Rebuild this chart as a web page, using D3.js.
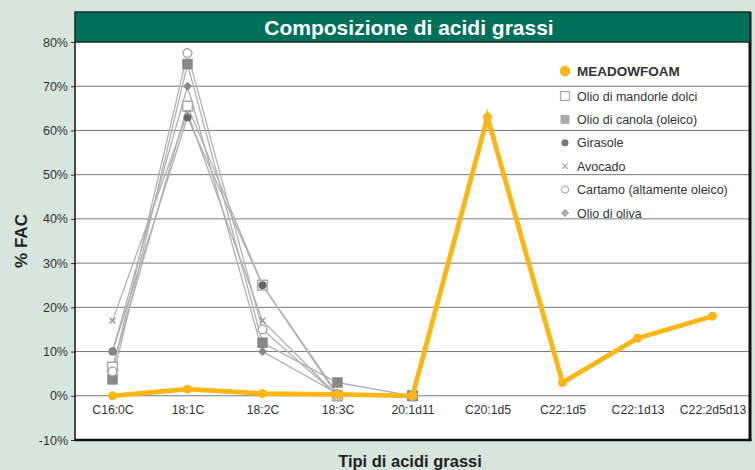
<!DOCTYPE html>
<html>
<head>
<meta charset="utf-8">
<script src="https://cdn.jsdelivr.net/npm/d3@7"></script>
<style>
  body { margin: 0; background: #d7e5df; }
  svg { display: block; font-family: "Liberation Sans", Arial, sans-serif; }
</style>
</head>
<body>
<svg width="755" height="470"></svg>
<script>
const categories = ['C16:0C', '18:1C', '18:2C', '18:3C', '20:1d11', 'C20:1d5', 'C22:1d5', 'C22:1d13', 'C22:2d5d13'];
const yTicks = [-10, 0, 10, 20, 30, 40, 50, 60, 70, 80];

// values in % FAC
const meadowfoam = [0, 1.5, 0.5, 0.3, 0, 63, 3, 13, 18];
const mandorle = [6.5, 65.5, 25, 0, 0];
const canola = [3.7, 75, 12, 3, 0];
const girasole = [10, 63, 25, 0.5, 0];
const avocado = [17, 64, 17, 0, 0];
const cartamo = [5.5, 77.5, 15, 0, 0];
const oliva = [10, 70, 10, 0.5, 0];

const greySeries = [
  { name: 'Olio di mandorle dolci', values: mandorle, symbol: d3.symbolSquare, size: 95, fill: '#fff', stroke: '#aaa' },
  { name: 'Olio di canola (oleico)', values: canola, symbol: d3.symbolSquare, size: 110, fill: '#888', stroke: 'none' },
  { name: 'Girasole', values: girasole, symbol: d3.symbolCircle, size: 50, fill: '#666', stroke: 'none' },
  { name: 'Avocado', values: avocado, symbol: d3.symbolX, size: 22, fill: 'none', stroke: '#999' },
  { name: 'Cartamo (altamente oleico)', values: cartamo, symbol: d3.symbolCircle, size: 60, fill: '#fff', stroke: '#aaa' },
  { name: 'Olio di oliva', values: oliva, symbol: d3.symbolSquare, size: 40, fill: '#888', stroke: 'none', rotate: 45 }
];

const orange = '#fbb616';
const plotLeft = 75, plotRight = 750, plotTop = 42, plotBottom = 440;

const svg = d3.select('svg');

const x = d3.scalePoint().domain(categories).range([plotLeft, plotRight]).padding(0.5);
const y = d3.scaleLinear().domain([-10, 80]).range([plotBottom, plotTop]);

// plot background
svg.append('rect')
    .attr('x', plotLeft).attr('y', plotTop)
    .attr('width', plotRight - plotLeft).attr('height', plotBottom - plotTop)
    .attr('fill', '#fff');

// gridlines
svg.append('g')
  .selectAll('line')
  .data(yTicks.filter(d => d > -10 && d < 80))
  .join('line')
    .attr('x1', plotLeft).attr('x2', plotRight)
    .attr('y1', d => y(d)).attr('y2', d => y(d))
    .attr('stroke', '#7a7a7a')
    .attr('stroke-width', 1);

// y axis
const yAxis = svg.append('g')
    .attr('transform', `translate(${plotLeft},0)`)
    .call(d3.axisLeft(y).tickValues(yTicks).tickFormat(d => d + '%').tickSize(4).tickPadding(3));
yAxis.select('.domain').remove();
yAxis.selectAll('line').attr('stroke', '#333');
yAxis.selectAll('text').attr('font-size', 12.5).attr('fill', '#333')
    .attr('font-family', '"Liberation Sans", Arial, sans-serif');

// x labels
const xAxis = svg.append('g')
    .attr('transform', `translate(0,${y(0) + 10})`)
    .call(d3.axisBottom(x).tickSize(0).tickPadding(0));
xAxis.select('.domain').remove();
xAxis.selectAll('text').attr('font-size', 12.2).attr('fill', '#333')
    .attr('font-family', '"Liberation Sans", Arial, sans-serif');

// frame
svg.append('line').attr('x1', plotLeft).attr('x2', plotLeft).attr('y1', plotTop).attr('y2', plotBottom + 1)
    .attr('stroke', '#111').attr('stroke-width', 1.5);
svg.append('line').attr('x1', plotLeft).attr('x2', plotRight + 1.5).attr('y1', plotBottom).attr('y2', plotBottom)
    .attr('stroke', '#111').attr('stroke-width', 2.5);
svg.append('line').attr('x1', plotRight).attr('x2', plotRight).attr('y1', 12).attr('y2', plotBottom + 1)
    .attr('stroke', '#111').attr('stroke-width', 3);

// title bar
svg.append('rect')
    .attr('x', plotLeft).attr('y', 12)
    .attr('width', plotRight - plotLeft).attr('height', plotTop - 12)
    .attr('fill', '#00705a')
    .attr('stroke', '#1a2a25').attr('stroke-width', 1.5);
svg.append('text')
    .attr('x', 409).attr('y', 35)
    .attr('text-anchor', 'middle')
    .attr('fill', '#fff')
    .attr('font-size', 21).attr('font-weight', 'bold')
    .text('Composizione di acidi grassi');

// axis titles
svg.append('text')
    .attr('x', 410).attr('y', 467)
    .attr('text-anchor', 'middle')
    .attr('font-size', 16.5).attr('font-weight', 'bold').attr('fill', '#222')
    .text('Tipi di acidi grassi');
svg.append('text')
    .attr('transform', `translate(27,${(plotTop + plotBottom) / 2}) rotate(-90)`)
    .attr('text-anchor', 'middle')
    .attr('font-size', 17).attr('font-weight', 'bold').attr('fill', '#222')
    .text('% FAC');

// grey series
const line = d3.line()
    .x((d, i) => x(categories[i]))
    .y(d => y(d));

svg.append('g')
  .selectAll('path')
  .data(greySeries)
  .join('path')
    .attr('d', s => line(s.values))
    .attr('fill', 'none')
    .attr('stroke', '#b0b0b0')
    .attr('stroke-width', 1.3);

greySeries.forEach(s => {
  svg.append('g')
    .selectAll('path')
    .data(s.values)
    .join('path')
      .attr('transform', (d, i) => `translate(${x(categories[i])},${y(d)}) rotate(${s.rotate || 0})`)
      .attr('d', d3.symbol(s.symbol, s.size))
      .attr('fill', s.fill)
      .attr('stroke', s.stroke)
      .attr('stroke-width', 1.5);
});

// meadowfoam
svg.append('path')
    .attr('d', line(meadowfoam))
    .attr('fill', 'none')
    .attr('stroke', orange)
    .attr('stroke-width', 4.8)
    .attr('stroke-linejoin', 'miter')
    .attr('stroke-miterlimit', 10);
svg.append('g')
  .selectAll('circle')
  .data(meadowfoam)
  .join('circle')
    .attr('cx', (d, i) => x(categories[i]))
    .attr('cy', d => y(d))
    .attr('r', 4.5)
    .attr('fill', orange);

// legend
const legendItems = [{ name: 'MEADOWFOAM', meadow: true }].concat(greySeries);
const legend = svg.append('g').attr('transform', 'translate(565,71)');
const row = legend.selectAll('g')
  .data(legendItems)
  .join('g')
    .attr('transform', (d, i) => `translate(0,${i === 0 ? 0 : 25 + (i - 1) * 23.4})`);

row.append('path')
    .attr('transform', d => `rotate(${d.rotate || 0})`)
    .attr('d', d => d.meadow ? d3.symbol(d3.symbolCircle, 85)() :
      d3.symbol(d.symbol, d.rotate ? 35 : d.symbol === d3.symbolSquare ? 80 : d.symbol === d3.symbolCircle ? 40 : d.size)())
    .attr('fill', d => d.meadow ? orange : (d.fill === '#888' ? '#aaa' : d.fill === '#666' ? '#777' : d.fill))
    .attr('stroke', d => d.meadow ? 'none' : (d.stroke === 'none' ? 'none' : '#aaa'))
    .attr('stroke-width', 1.2);

row.append('text')
    .attr('x', 12).attr('y', 4.5)
    .attr('font-size', d => d.meadow ? 13.5 : 12.5)
    .attr('font-weight', d => d.meadow ? 'bold' : 'normal')
    .attr('fill', '#333')
    .text(d => d.name);
</script>
</body>
</html>
